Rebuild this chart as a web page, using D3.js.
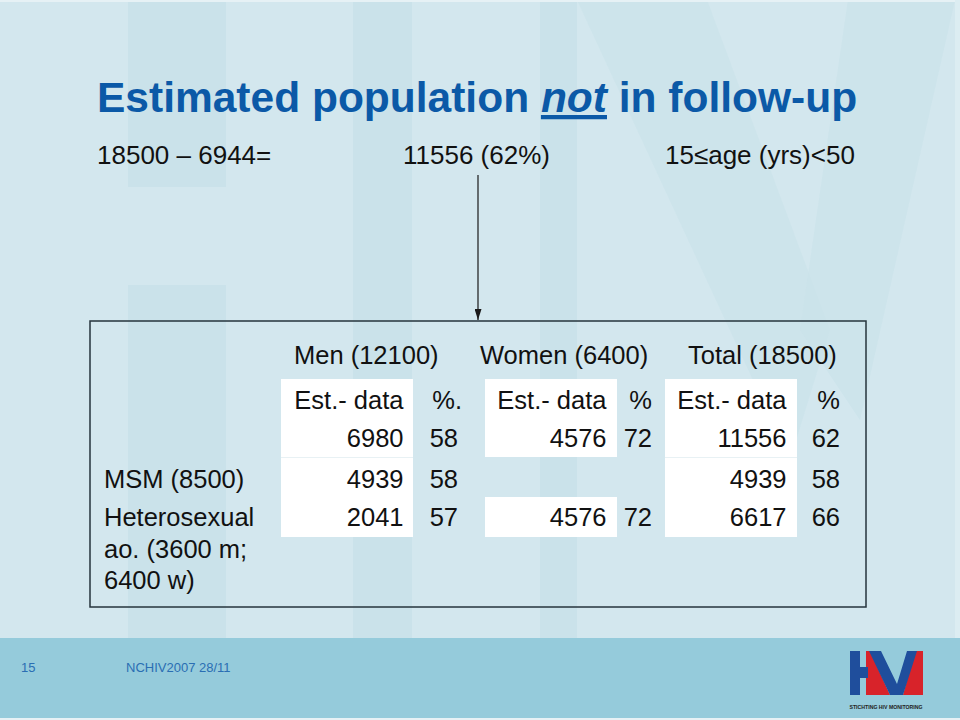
<!DOCTYPE html>
<html>
<head>
<meta charset="utf-8">
<script src="https://cdn.jsdelivr.net/npm/d3@7"></script>
<style>
  html, body { margin: 0; padding: 0; background: #fff; }
  svg { display: block; }
  text { font-family: "Liberation Sans", Arial, sans-serif; }
</style>
</head>
<body>
<svg id="chart" width="960" height="720"></svg>
<script>
// ---------- data ----------
const titleParts = ["Estimated population ", "not", " in follow-up"];
const subtitleParts = ["18500 \u2013 6944=", "11556 (62%)", "15\u2264age (yrs)<50"];
const groups = ["Men (12100)", "Women (6400)", "Total (18500)"];
const estHeaders = ["Est.- data", "Est.- data", "Est.- data"];
const pctHeaders = ["%.", "%", "%"];
const rowKeys = ["all", "msm", "het"];
const rowLabels = [[], ["MSM (8500)"], ["Heterosexual", "ao. (3600 m;", "6400 w)"]];
const menEst = [6980, 4939, 2041];
const menPct = [58, 58, 57];
const womenEst = [4576, null, 4576];
const womenPct = [72, null, 72];
const totalEst = [11556, 4939, 6617];
const totalPct = [62, 58, 66];
const footerPage = "15";
const footerText = "NCHIV2007 28/11";
const logoText = "STICHTING HIV MONITORING";

const estValues = [menEst, womenEst, totalEst];
const pctValues = [menPct, womenPct, totalPct];

// ---------- drawing ----------
const svg = d3.select("#chart");
const W = 960, H = 720;

// background
svg.append("rect").attr("width", W).attr("height", H).attr("fill", "#d3e7ee");
const bgShade = "#cae2ea";
const bg = svg.append("g").attr("fill", bgShade);
bg.append("rect").attr("x", 128).attr("y", 0).attr("width", 98).attr("height", 187);
bg.append("rect").attr("x", 128).attr("y", 285).attr("width", 98).attr("height", 353);
bg.append("rect").attr("x", 353).attr("y", 0).attr("width", 59).attr("height", 638);
bg.append("rect").attr("x", 540).attr("y", 0).attr("width", 37).attr("height", 638);
bg.append("path").attr("d", "M577,0 L707,0 L830,330 L790,460 Z").attr("opacity", 0.7);
bg.append("path").attr("d", "M848,0 L955,0 L860,420 L800,330 Z").attr("opacity", 0.7);
// lighter edges
svg.append("rect").attr("x", 0).attr("y", 0).attr("width", W).attr("height", 2).attr("fill", "#e6f1f5");
svg.append("rect").attr("x", 955).attr("y", 0).attr("width", 5).attr("height", 638).attr("fill", "#dcedf2");

// footer band
svg.append("rect").attr("x", 0).attr("y", 638).attr("width", W).attr("height", 80).attr("fill", "#95cbdb");
svg.append("rect").attr("x", 0).attr("y", 718).attr("width", W).attr("height", 2).attr("fill", "#e6f1f5");

// title
const title = svg.append("text")
  .attr("x", 97).attr("y", 112)
  .attr("font-size", 42.5).attr("font-weight", "bold").attr("fill", "#0b59a7");
title.selectAll("tspan").data(titleParts).join("tspan")
  .text(d => d)
  .attr("font-style", (d, i) => i === 1 ? "italic" : "normal")
  .style("text-decoration", (d, i) => i === 1 ? "underline" : "none")
  .style("white-space", "pre");

// subtitle
const subX = d3.scaleOrdinal(subtitleParts, [97, 403, 665]);
svg.append("g").selectAll("text").data(subtitleParts).join("text")
  .attr("x", d => subX(d)).attr("y", 164)
  .attr("font-size", 26).attr("fill", "#111")
  .text(d => d);

// arrow
svg.append("defs").append("marker")
  .attr("id", "arrow").attr("viewBox", "0 0 10 10")
  .attr("preserveAspectRatio", "none")
  .attr("refX", 10).attr("refY", 5)
  .attr("markerWidth", 11).attr("markerHeight", 7)
  .attr("markerUnits", "userSpaceOnUse")
  .attr("orient", "auto")
  .append("path").attr("d", "M0,0 L10,5 L0,10 Z").attr("fill", "#1a1a1a");
svg.append("line")
  .attr("x1", 478).attr("y1", 175).attr("x2", 478).attr("y2", 320)
  .attr("stroke", "#1a1a1a").attr("stroke-width", 1.2)
  .attr("marker-end", "url(#arrow)");

// table
const boxX = d3.scaleOrdinal(groups, [281, 485, 665]);
const boxW = 132;
const estRight = d3.scaleOrdinal(groups, [403.5, 606.5, 786.5]);
const pctRight = d3.scaleOrdinal(groups, [458, 652, 840]);
const headX = d3.scaleOrdinal(groups, [294, 480, 688]);
const rowY = d3.scaleOrdinal(["head"].concat(rowKeys), [409, 447, 488, 526]);
const bandTop = d3.scaleOrdinal(["head"].concat(rowKeys), [379, 420, 457, 497]);
const bandBot = d3.scaleOrdinal(["head"].concat(rowKeys), [420, 457, 497, 537]);

const table = svg.append("g");

// white bands
groups.forEach((g, gi) => {
  const cells = ["head"].concat(rowKeys).filter((r, ri) => ri === 0 || estValues[gi][ri - 1] !== null);
  table.append("g").selectAll("rect").data(cells).join("rect")
    .attr("x", boxX(g)).attr("width", boxW)
    .attr("y", r => bandTop(r)).attr("height", r => bandBot(r) - bandTop(r))
    .attr("fill", "#ffffff").attr("shape-rendering", "crispEdges");
  if (estValues[gi][0] !== null && estValues[gi][1] !== null) {
    table.append("line")
      .attr("x1", boxX(g)).attr("x2", boxX(g) + boxW)
      .attr("y1", bandTop("msm") + 0.5).attr("y2", bandTop("msm") + 0.5)
      .attr("stroke", "#e8f1f4").attr("stroke-width", 1);
  }
});

// border
table.append("rect")
  .attr("x", 90).attr("y", 321).attr("width", 776).attr("height", 286)
  .attr("fill", "none").attr("stroke", "#26343d").attr("stroke-width", 1.5);

const fs = 25.5;
// group headers
table.append("g").selectAll("text").data(groups).join("text")
  .attr("x", g => headX(g)).attr("y", 364)
  .attr("font-size", fs).attr("fill", "#111")
  .text(g => g);

// sub-headers
table.append("g").selectAll("text").data(groups).join("text")
  .attr("x", g => estRight(g)).attr("y", rowY("head"))
  .attr("text-anchor", "end").attr("font-size", fs).attr("fill", "#111")
  .text((g, i) => estHeaders[i]);
table.append("g").selectAll("text").data(groups).join("text")
  .attr("x", (g, i) => pctRight(g) + (pctHeaders[i] === "%." ? 4 : 0)).attr("y", rowY("head"))
  .attr("text-anchor", "end").attr("font-size", fs).attr("fill", "#111")
  .text((g, i) => pctHeaders[i]);

// values
groups.forEach((g, gi) => {
  const rows = rowKeys.map((r, ri) => ({ r, est: estValues[gi][ri], pct: pctValues[gi][ri] }))
    .filter(d => d.est !== null);
  table.append("g").selectAll("text").data(rows).join("text")
    .attr("x", estRight(g)).attr("y", d => rowY(d.r))
    .attr("text-anchor", "end").attr("font-size", fs).attr("fill", "#111")
    .text(d => d.est);
  table.append("g").selectAll("text").data(rows).join("text")
    .attr("x", pctRight(g)).attr("y", d => rowY(d.r))
    .attr("text-anchor", "end").attr("font-size", fs).attr("fill", "#111")
    .text(d => d.pct);
});

// row labels
const lineGap = 31.5;
rowKeys.forEach((r, ri) => {
  table.append("g").selectAll("text").data(rowLabels[ri]).join("text")
    .attr("x", 104).attr("y", (d, i) => rowY(r) + i * lineGap)
    .attr("font-size", fs).attr("fill", "#111")
    .text(d => d);
});

// footer text
svg.append("text").attr("x", 21).attr("y", 672)
  .attr("font-size", 13).attr("fill", "#2a6eb3").text(footerPage);
svg.append("text").attr("x", 126).attr("y", 672)
  .attr("font-size", 13).attr("fill", "#2a6eb3").text(footerText);

// logo
const logo = svg.append("g");
const blue = "#1f4e9c", red = "#d8232a";
logo.append("path").attr("fill", red)
  .attr("d", "M866,651 L870,651 L890,695 L866,695 Z");
logo.append("path").attr("fill", red)
  .attr("d", "M915,651 L923,651 L923,695 L903,695 Z");
logo.append("rect").attr("fill", blue).attr("x", 850).attr("y", 651).attr("width", 10).attr("height", 44);
logo.append("rect").attr("fill", blue).attr("x", 850).attr("y", 667).attr("width", 18).attr("height", 11);
logo.append("path").attr("fill", blue)
  .attr("d", "M869,651 L881,651 L897,684 L907,651 L917,651 L903,695 L890,695 Z");
logo.append("text").attr("x", 886).attr("y", 709)
  .attr("text-anchor", "middle").attr("font-size", 5).attr("font-weight", "bold")
  .attr("fill", "#222").attr("textLength", 73).attr("lengthAdjust", "spacingAndGlyphs")
  .text(logoText);
</script>
</body>
</html>
